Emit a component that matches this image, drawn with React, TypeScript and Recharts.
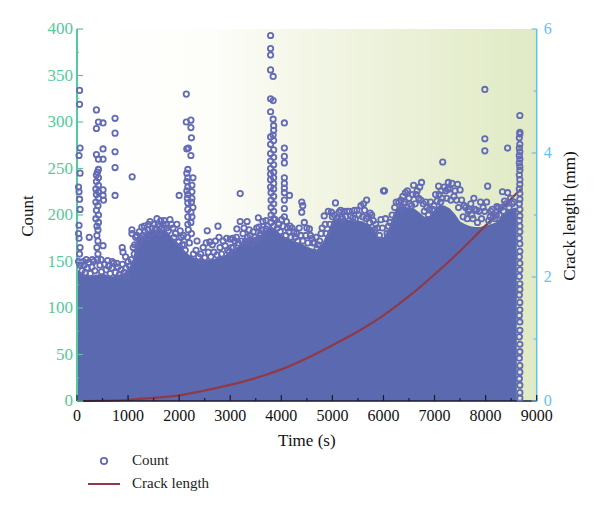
import React from "react";
import { ComposedChart, Area, Scatter, Line, XAxis, YAxis, ReferenceArea, Legend } from "recharts";

type P = [number, number];
const xTicks = [0, 500, 1000, 1500, 2000, 2500, 3000, 3500, 4000, 4500, 5000, 5500, 6000, 6500, 7000, 7500, 8000, 8500, 9000];
const countTicks = [0, 25, 50, 75, 100, 125, 150, 175, 200, 225, 250, 275, 300, 325, 350, 375, 400];
const crackTicks = [0, 1, 2, 3, 4, 5, 6];
const legendNames = ["Count", "Crack length"];

const envelope: P[] = [
  [0, 142], [100, 136], [300, 135], [500, 137], [700, 134], [900, 137], [1000, 141], [1100, 153], [1150, 167], [1200, 173], [1300, 177], [1400, 181],
  [1500, 184], [1600, 185], [1700, 184], [1800, 180], [1900, 174], [2000, 169], [2100, 162], [2200, 157], [2300, 154], [2400, 152], [2500, 151],
  [2600, 152], [2700, 153], [2800, 155], [2900, 157], [3000, 160], [3100, 164], [3200, 168], [3300, 173], [3400, 175], [3500, 177], [3600, 179],
  [3700, 184], [3800, 188], [3900, 184], [4000, 179], [4100, 175], [4200, 173], [4300, 171], [4400, 169], [4500, 166], [4600, 164], [4700, 163],
  [4800, 169], [4900, 181], [5000, 194], [5100, 197], [5200, 196], [5300, 195], [5400, 194], [5500, 194], [5600, 193], [5700, 190], [5800, 186],
  [5900, 177], [6000, 176], [6100, 185], [6200, 202], [6300, 210], [6400, 209], [6500, 208], [6600, 207], [6700, 203], [6800, 198], [6900, 199],
  [7000, 206], [7100, 211], [7200, 210], [7300, 207], [7400, 201], [7500, 193], [7600, 190], [7700, 188], [7800, 187], [7900, 187], [8000, 189],
  [8100, 190], [8200, 192], [8300, 198], [8400, 204], [8500, 207], [8610, 208],
];
const crack: P[] = [
  [130, 0], [1000, 0.02], [1500, 0.05], [2000, 0.09], [2500, 0.17], [3000, 0.26], [3500, 0.37], [4000, 0.51], [4500, 0.69], [5000, 0.9], [5500, 1.12],
  [6000, 1.38], [6500, 1.69], [7000, 2.04], [7500, 2.42], [8000, 2.83], [8500, 3.26], [8690, 3.42],
];

const leftColumn: P[] = [
  [50, 334], [50, 319], [60, 272], [40, 264], [60, 245], [30, 230], [40, 225], [50, 217], [60, 206], [40, 189], [30, 180], [40, 175], [60, 165], [50, 158], [30, 150], [60, 146],
];
const spikeOne: P[] = [
  [380, 313], [380, 293], [420, 300], [510, 299], [380, 265], [420, 260], [510, 271], [510, 260], [420, 249], [400, 246], [380, 243], [420, 240], [380, 236], [420, 232],
  [370, 228], [420, 225], [380, 222], [420, 218], [370, 214], [410, 210], [380, 205], [420, 200], [370, 196], [420, 192], [390, 188], [410, 184], [390, 178], [410, 172],
  [390, 165], [410, 158], [400, 152], [510, 227], [510, 221], [520, 216], [510, 167], [745, 304], [745, 288], [745, 268], [745, 251], [745, 221], [1080, 241], [240, 176],
];
const spikeTwo: P[] = [
  [2140, 330], [2140, 300], [2230, 302], [2230, 294], [2240, 283], [2230, 264], [2180, 272], [2150, 271], [2170, 249], [2150, 245], [2270, 240], [2170, 240], [2150, 236], [2250, 232],
  [2170, 230], [2150, 226], [2250, 225], [2170, 222], [2250, 218], [2160, 218], [2000, 221], [2240, 214], [2170, 213], [2270, 208], [2230, 203], [2170, 206], [2250, 198], [2170, 198],
  [2230, 192], [2170, 190], [2180, 184], [2240, 180], [2160, 176], [2200, 170],
];
const spikeThree: P[] = [
  [3790, 393], [3790, 379], [3790, 372], [3790, 356], [3790, 325], [3840, 323], [3790, 311], [3840, 349], [3840, 303], [3850, 296], [3850, 291], [3840, 286], [3790, 284], [3850, 280],
  [3790, 276], [3850, 270], [3790, 266], [3850, 262], [3790, 258], [3850, 254], [3790, 250], [3850, 246], [3790, 244], [3850, 240], [3790, 238], [3850, 234], [3790, 230], [3850, 228],
  [3800, 224], [3850, 220], [3800, 216], [3850, 212], [3800, 208], [3850, 204], [3800, 200], [3850, 196], [3800, 192], [3850, 188],
];
const spikeFour: P[] = [
  [4060, 299], [4060, 272], [4060, 263], [4060, 256], [4060, 240], [4060, 234], [4060, 229], [4060, 224], [4060, 216], [4060, 207], [4160, 221], [4060, 198], [4100, 193], [4170, 188],
  [4400, 214], [4420, 210], [4400, 203], [4450, 192], [4550, 185],
];
const endColumn: P[] = [
  [8670, 307], [8670, 289], [8670, 287], [8660, 283], [8670, 276], [8660, 272], [8670, 268], [8660, 264], [8670, 260], [8660, 256], [8670, 252], [8670, 248], [8660, 243], [8670, 238],
  [8670, 233], [8660, 228], [8670, 223], [8670, 217], [8660, 212], [8670, 206], [8670, 199], [8660, 194], [8670, 188], [8670, 182], [8660, 175], [8670, 169], [8670, 161], [8660, 155],
  [8670, 148], [8670, 141], [8660, 134], [8670, 126], [8670, 120], [8660, 114], [8670, 106], [8670, 98], [8660, 92], [8670, 85], [8670, 76], [8660, 69], [8670, 61], [8670, 53], [8660, 46],
  [8670, 38], [8670, 31], [8660, 24], [8670, 17], [8670, 9], [8670, 3],
];
const isolated: P[] = [
  [3195, 223], [6000, 226], [7160, 257], [7985, 335], [7985, 282], [7985, 269], [8430, 272], [8040, 231], [6020, 226],
];
const rimEarly: P[] = [
  [120, 150], [180, 152], [300, 152], [470, 152], [600, 151], [690, 150], [780, 148], [885, 165], [900, 160], [950, 155], [1000, 150], [1075, 184], [1075, 180], [1170, 178], [1270, 187],
  [1330, 182], [1400, 190], [1470, 186], [1565, 196], [1620, 188], [1710, 194], [1760, 186], [1820, 195], [1880, 186], [1955, 190], [1930, 180], [2040, 176], [2100, 168], [2330, 162],
  [2420, 158], [2550, 183], [2600, 171], [2680, 160], [2760, 188], [2800, 165], [2900, 167], [3000, 174], [2950, 162], [3060, 165], [3130, 185], [3195, 193], [3330, 193], [3250, 180],
  [3340, 176], [3420, 170], [3500, 172], [3550, 197], [3560, 187], [3600, 180], [3640, 193], [3700, 194], [3700, 185], [3050, 175], [1130, 168], [1230, 172], [1640, 194], [2440, 150],
];
const rimMiddle: P[] = [
  [3950, 190], [4010, 195], [4150, 182], [4250, 182], [4300, 180], [4350, 186], [4480, 178], [4600, 175], [4650, 170], [4720, 168], [4780, 180], [4840, 199], [4920, 204], [5060, 213],
  [5000, 198], [5130, 203], [5230, 204], [5200, 196], [5330, 204], [5400, 197], [5480, 205], [5560, 210], [5670, 216], [5630, 205], [5740, 202], [5800, 194], [5850, 190], [5700, 198],
  [5950, 195], [6040, 196], [6100, 188], [6070, 180], [6300, 214], [6380, 220], [6430, 224], [6500, 218], [6590, 232], [6640, 222], [6710, 230], [6745, 235], [6690, 218], [6780, 212],
  [6850, 208], [6920, 214], [6960, 206], [6400, 212], [6550, 210],
];
const rimLate: P[] = [
  [7080, 231], [7090, 222], [7150, 218], [7270, 235], [7300, 228], [7340, 234], [7400, 226], [7450, 233], [7500, 227], [7530, 216], [7610, 208], [7680, 206], [7770, 218], [7710, 212],
  [7730, 200], [7820, 205], [7900, 214], [7870, 204], [8020, 214], [7980, 204], [8090, 198], [8130, 206], [8220, 209], [8180, 196], [8330, 225], [8370, 215], [8430, 224], [8490, 218],
  [8520, 212], [8270, 200], [7220, 226], [7050, 215],
];
const edgeEarly: P[] = [
  [70, 148], [100, 140], [140, 146], [160, 138], [200, 143], [230, 149], [260, 137], [290, 144], [330, 150], [350, 140], [450, 146], [480, 139], [540, 147], [570, 141], [620, 145], [650, 137],
  [680, 143], [720, 148], [750, 138], [800, 144], [830, 136], [860, 141], [890, 147], [920, 138], [960, 143], [990, 135], [1030, 145], [1060, 152], [1100, 165], [1120, 158], [1150, 176],
  [1190, 168], [1220, 182], [1250, 175], [1290, 178], [1320, 188], [1360, 176], [1390, 184], [1430, 193], [1450, 180], [1500, 190], [1530, 184], [1590, 190], [1600, 181], [1660, 186],
  [1680, 190], [1740, 190], [1790, 183], [1850, 190], [1900, 176], [1990, 171], [2020, 183], [2060, 168], [2080, 178], [2120, 162],
];
const edgeMiddle: P[] = [
  [2280, 158], [2350, 172], [2380, 155], [2470, 165], [2500, 154], [2530, 170], [2570, 160], [2620, 155], [2650, 168], [2710, 172], [2740, 157], [2780, 176], [2830, 158], [2860, 172],
  [2930, 175], [2980, 160], [3020, 165], [3090, 172], [3120, 176], [3160, 170], [3220, 172], [3270, 186], [3300, 172], [3370, 184], [3390, 178], [3450, 182], [3480, 176], [3520, 186],
  [3580, 178], [3620, 184], [3680, 176], [3730, 188], [3880, 195], [3920, 186], [3980, 182], [4030, 188], [4090, 178], [4120, 186], [4190, 176], [4210, 186], [4270, 176], [4320, 172],
  [4380, 178], [4420, 172], [4500, 186], [4520, 170], [4570, 178], [4620, 170], [4680, 176], [4700, 164], [4750, 172], [4800, 186], [4860, 190], [4880, 180], [4950, 190],
];
const edgeLate: P[] = [
  [4980, 203], [5040, 200], [5090, 197], [5160, 205], [5180, 198], [5260, 198], [5290, 204], [5360, 199], [5430, 205], [5450, 196], [5520, 200], [5590, 198], [5610, 212], [5660, 196],
  [5730, 192], [5770, 200], [5830, 184], [5880, 186], [5920, 178], [5980, 186], [6130, 192], [6170, 200], [6220, 208], [6250, 214], [6340, 216], [6360, 208], [6420, 214], [6470, 226],
  [6520, 212], [6570, 222], [6620, 212], [6660, 226], [6730, 216], [6800, 204], [6830, 214], [6880, 200], [6900, 206], [6990, 210], [7020, 222], [7120, 214], [7130, 226], [7190, 230],
  [7240, 218], [7260, 228], [7320, 216], [7380, 220], [7430, 216], [7470, 208], [7560, 198], [7580, 210], [7640, 196], [7660, 204], [7750, 196], [7790, 206], [7840, 192], [7920, 196],
  [7950, 208], [8060, 194], [8100, 204], [8150, 198], [8210, 200], [8250, 208], [8300, 208], [8350, 204], [8400, 212], [8460, 208], [8550, 214],
];

const toRow = ([t, v]: P, key: string) => ({ t, [key]: v });
const envelopeRows = envelope.map((p) => toRow(p, "top"));
const crackRows = crack.map((p) => toRow(p, "mm"));
const countRows = [
  ...leftColumn, ...spikeOne, ...spikeTwo, ...spikeThree, ...spikeFour, ...endColumn, ...isolated,
  ...rimEarly, ...rimMiddle, ...rimLate, ...edgeEarly, ...edgeMiddle, ...edgeLate,
].map((p) => toRow(p, "count"));

const SERIF = "'Liberation Serif', serif";
const GREEN = "#55c99b";
const BLUE = "#62c2ee";
const CIRCLE = "#636bb6";

const Ring = (props: any) => <circle cx={props.cx} cy={props.cy} r={2.7} fill="none" stroke={CIRCLE} strokeWidth={1.8} />;

const BottomTick = ({ x, y, payload }: any) => {
  const major = payload.value % 1000 === 0;
  return (
    <g>
      <line x1={x} x2={x} y1={y} y2={y - (major ? 6 : 3)} stroke="#1a1a2a" strokeWidth={1.2} />
      {major && (
        <text x={x} y={y + 20} textAnchor="middle" fontFamily={SERIF} fontSize={16} fill="#111">
          {payload.value}
        </text>
      )}
    </g>
  );
};
const TopTick = ({ x, y, payload }: any) => (
  <line x1={x} x2={x} y1={y} y2={y + (payload.value % 1000 === 0 ? 6 : 3)} stroke="#333" strokeWidth={1.2} />
);
const LeftTick = ({ x, y, payload }: any) => {
  const major = payload.value % 50 === 0;
  return (
    <g>
      <line x1={x} x2={x + (major ? 6 : 2)} y1={y} y2={y} stroke={GREEN} strokeWidth={1.2} />
      {major && (
        <text x={x - 4} y={y + 5} textAnchor="end" fontFamily={SERIF} fontSize={17} fill={GREEN}>
          {payload.value}
        </text>
      )}
    </g>
  );
};
const RightTick = ({ x, y, payload }: any) => {
  const major = payload.value % 2 === 0;
  return (
    <g>
      <line x1={x} x2={x - (major ? 5 : 3)} y1={y} y2={y} stroke={BLUE} strokeWidth={1.2} />
      {major && (
        <text x={x + 7} y={y + 5} textAnchor="start" fontFamily={SERIF} fontSize={16} fill={BLUE}>
          {payload.value}
        </text>
      )}
    </g>
  );
};

const AxisTitle = ({ viewBox, value, dx }: any) => {
  const cx = viewBox.x + dx;
  const cy = viewBox.y + viewBox.height / 2 + 1;
  return (
    <text x={cx} y={cy} transform={`rotate(-90 ${cx} ${cy})`} textAnchor="middle" dominantBaseline="middle" fontFamily={SERIF} fontSize={17} fill="#111">
      {value}
    </text>
  );
};

const LegendBox = ({ payload }: any) => (
  <div style={{ fontFamily: SERIF, fontSize: 15, color: "#222" }}>
    {(payload || [])
      .filter((item: any) => legendNames.includes(item.value))
      .map((item: any) => (
        <div key={item.value} style={{ display: "flex", alignItems: "center", height: 23 }}>
          <svg width={44} height={14} style={{ display: "block" }}>
            {item.value === "Count" ? (
              <circle cx={16} cy={7} r={3.2} fill="none" stroke={CIRCLE} strokeWidth={1.8} />
            ) : (
              <line x1={0} x2={32} y1={7} y2={7} stroke="#8f3a46" strokeWidth={2} />
            )}
          </svg>
          <span>{item.value}</span>
        </div>
      ))}
  </div>
);

export default function App() {
  return (
    <div style={{ position: "absolute", left: 0, top: 0, width: 600, height: 513 }}>
      <ComposedChart width={600} height={513} margin={{ top: 29, right: 0, bottom: 66, left: 0 }}>
        <defs>
          <linearGradient id="plotBg" x1="0" x2="1" y1="0" y2="0">
            <stop offset="0" stopColor="#ffffff" />
            <stop offset="0.3" stopColor="#fdfdf9" />
            <stop offset="0.5" stopColor="#f3f6e6" />
            <stop offset="0.75" stopColor="#e9f0d5" />
            <stop offset="1" stopColor="#e0eac4" />
          </linearGradient>
        </defs>
        <XAxis
          xAxisId={0}
          dataKey="t"
          type="number"
          domain={[0, 9000]}
          ticks={xTicks}
          interval={0}
          height={46}
          tickSize={0}
          tickMargin={0}
          tick={<BottomTick />}
          axisLine={{ stroke: "#1a1a2a", strokeWidth: 1.5 }}
          tickLine={false}
          label={{ value: "Time (s)", position: "insideBottom", offset: 1, fontFamily: SERIF, fontSize: 17, fill: "#111" }}
        />
        <XAxis
          xAxisId="top"
          orientation="top"
          dataKey="t"
          type="number"
          domain={[0, 9000]}
          ticks={xTicks}
          interval={0}
          height={0}
          tickSize={0}
          tickMargin={0}
          tick={<TopTick />}
          axisLine={{ stroke: "#444", strokeWidth: 1.5 }}
          tickLine={false}
        />
        <YAxis
          yAxisId="left"
          type="number"
          domain={[0, 400]}
          ticks={countTicks}
          interval={0}
          width={77}
          tickSize={0}
          tickMargin={0}
          tick={<LeftTick />}
          axisLine={{ stroke: GREEN, strokeWidth: 2 }}
          tickLine={false}
          label={{ content: (p: any) => <AxisTitle viewBox={p.viewBox} value="Count" dx={29} /> }}
        />
        <YAxis
          yAxisId="right"
          orientation="right"
          type="number"
          domain={[0, 6]}
          ticks={crackTicks}
          interval={0}
          width={63.3}
          tickSize={0}
          tickMargin={0}
          tick={<RightTick />}
          axisLine={{ stroke: BLUE, strokeWidth: 1.5 }}
          tickLine={false}
          label={{ content: (p: any) => <AxisTitle viewBox={p.viewBox} value="Crack length (mm)" dx={34} /> }}
        />
        <ReferenceArea xAxisId={0} yAxisId="left" x1={0} x2={9000} y1={0} y2={400} fill="url(#plotBg)" fillOpacity={1} stroke="none" />
        <Area
          data={envelopeRows}
          xAxisId={0}
          yAxisId="left"
          dataKey="top"
          type="linear"
          stroke="none"
          fill="#5b69b0"
          fillOpacity={1}
          dot={false}
          activeDot={false}
          legendType="none"
          isAnimationActive={false}
        />
        <Scatter name="Count" data={countRows} xAxisId={0} yAxisId="left" dataKey="count" shape={Ring} isAnimationActive={false} />
        <Line
          name="Crack length"
          data={crackRows}
          xAxisId={0}
          yAxisId="right"
          dataKey="mm"
          type="monotone"
          stroke="#8f3a46"
          strokeWidth={2.2}
          dot={false}
          activeDot={false}
          isAnimationActive={false}
        />
        <Legend
          layout="vertical"
          align="center"
          verticalAlign="middle"
          wrapperStyle={{ left: 88, top: 449, width: 200, bottom: "auto", right: "auto" }}
          content={<LegendBox />}
        />
      </ComposedChart>
    </div>
  );
}
